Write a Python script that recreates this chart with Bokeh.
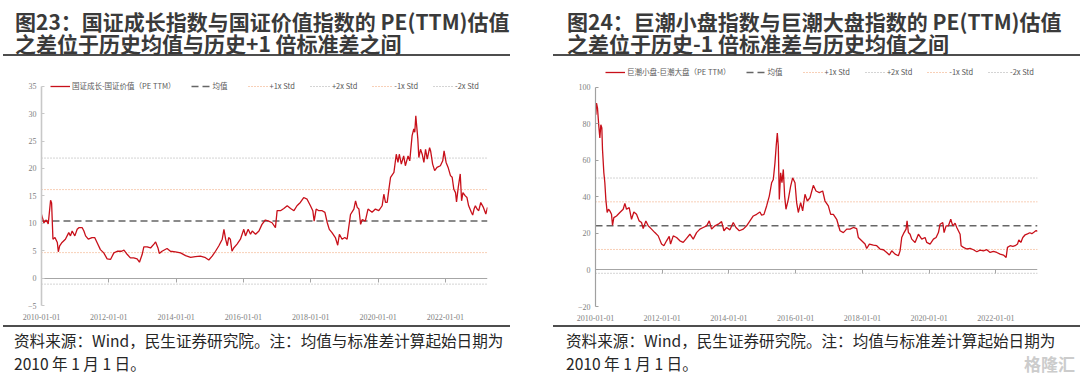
from datetime import datetime, timedelta
from bokeh.plotting import figure
from bokeh.models import (Range1d, FixedTicker, DatetimeTickFormatter, DatetimeAxis,
                          Legend, LegendItem, Div)
from bokeh.layouts import row, column
from bokeh.embed import file_html
from bokeh.resources import INLINE

# ---------------- data ----------------
x_tick_labels = ["2010-01-01", "2012-01-01", "2014-01-01", "2016-01-01",
                 "2018-01-01", "2020-01-01", "2022-01-01"]

# chart 1: 国证成长 - 国证价值 (PE TTM); time in years since 2010-01-01
growth_t = [0.00, 0.07, 0.14, 0.20, 0.27, 0.30, 0.34, 0.40, 0.47, 0.50,
            0.54, 0.61, 0.71, 0.81, 0.86, 0.91, 0.99, 1.06, 1.11, 1.21,
            1.26, 1.31, 1.39, 1.50, 1.58, 1.65, 1.75, 1.85, 1.95, 2.05,
            2.15, 2.25, 2.38, 2.45, 2.55, 2.64, 2.74, 2.84, 2.91, 2.99,
            3.04, 3.14, 3.24, 3.34, 3.39, 3.46, 3.50, 3.58, 3.73, 3.83,
            3.98, 4.13, 4.28, 4.43, 4.57, 4.72, 4.85, 4.97, 5.07, 5.17,
            5.27, 5.37, 5.42, 5.47, 5.52, 5.56, 5.61, 5.66, 5.71, 5.81,
            5.91, 6.01, 6.06, 6.14, 6.21, 6.26, 6.36, 6.46, 6.55, 6.65,
            6.75, 6.85, 6.95, 7.00, 7.10, 7.20, 7.30, 7.40, 7.50, 7.59,
            7.69, 7.79, 7.89, 7.99, 8.06, 8.10, 8.16, 8.24, 8.34, 8.42,
            8.49, 8.55, 8.63, 8.73, 8.80, 8.85, 8.93, 9.01, 9.08, 9.18,
            9.28, 9.33, 9.38, 9.43, 9.48, 9.53, 9.62, 9.70, 9.82, 9.92,
            10.02, 10.12, 10.17, 10.22, 10.27, 10.32, 10.37, 10.44, 10.47, 10.54,
            10.59, 10.63, 10.69, 10.76, 10.81, 10.89, 10.94, 11.01, 11.06, 11.09,
            11.12, 11.15, 11.18, 11.21, 11.26, 11.31, 11.36, 11.41, 11.46, 11.53,
            11.56, 11.62, 11.68, 11.75, 11.85, 11.92, 11.96, 12.02, 12.08, 12.15,
            12.20, 12.25, 12.30, 12.33, 12.38, 12.44, 12.48, 12.52, 12.59, 12.64,
            12.69, 12.77, 12.81, 12.85, 12.89, 12.94, 12.99, 13.05, 13.12, 13.20,
            13.25]
growth_v = [11.6, 10.1, 10.6, 9.9, 14.2, 13.7, 7.1, 7.4, 6.5, 4.8,
            5.9, 6.5, 7.1, 8.3, 7.7, 8.6, 7.7, 8.9, 9.2, 9.2,
            8.6, 7.7, 7.1, 7.4, 7.4, 6.5, 5.2, 4.6, 3.5, 3.4,
            4.6, 4.9, 4.9, 5.1, 4.3, 3.7, 3.7, 3.5, 2.9, 4.3,
            5.7, 5.7, 5.5, 6.2, 6.6, 5.5, 4.5, 4.9, 5.4, 4.9,
            4.8, 4.6, 4.1, 3.8, 3.9, 4.0, 3.8, 3.3, 4.0, 4.9,
            5.9, 7.1, 8.9, 7.1, 5.9, 7.4, 7.1, 4.9, 5.5, 6.2,
            7.1, 8.9, 7.7, 8.9, 8.0, 8.6, 8.0, 8.6, 9.8, 10.6,
            10.4, 10.1, 9.2, 12.3, 12.3, 12.7, 13.2, 12.7, 12.3, 13.2,
            13.8, 14.7, 14.4, 13.2, 12.3, 10.4, 12.6, 12.3, 12.3, 12.0,
            10.1, 8.9, 8.3, 7.4, 6.0, 8.0, 7.1, 7.4, 7.1, 11.6,
            12.6, 14.1, 12.9, 12.6, 9.8, 10.7, 10.4, 12.6, 12.0, 12.6,
            12.3, 13.2, 15.3, 13.8, 13.8, 16.2, 18.4, 19.0, 19.3, 22.6,
            21.1, 22.6, 20.8, 22.3, 20.5, 22.3, 21.4, 26.0, 27.2, 26.6,
            29.6, 27.5, 25.4, 22.0, 23.5, 22.6, 21.1, 23.5, 21.7, 23.8,
            23.2, 20.8, 19.6, 20.2, 20.5, 21.4, 23.2, 21.1, 20.2, 18.7,
            18.4, 16.2, 15.6, 13.9, 16.5, 19.0, 14.1, 15.6, 15.0, 14.7,
            13.2, 12.0, 11.5, 12.6, 13.2, 12.6, 12.3, 13.8, 13.0, 11.7,
            12.9]
growth_mean = 10.4
growth_std = 5.75
growth_yticks = [-5, 0, 5, 10, 15, 20, 25, 30, 35]

# chart 2: 巨潮小盘 - 巨潮大盘 (PE TTM)
size_t = [0.01, 0.03, 0.06, 0.10, 0.13, 0.16, 0.19, 0.21, 0.25, 0.28,
          0.31, 0.35, 0.39, 0.43, 0.48, 0.51, 0.55, 0.63, 0.73, 0.83,
          0.88, 0.93, 1.01, 1.08, 1.15, 1.23, 1.31, 1.38, 1.43, 1.51,
          1.58, 1.68, 1.78, 1.88, 1.98, 2.05, 2.13, 2.21, 2.25, 2.33,
          2.43, 2.53, 2.63, 2.73, 2.83, 2.93, 3.03, 3.13, 3.23, 3.33,
          3.41, 3.48, 3.58, 3.68, 3.78, 3.85, 3.93, 4.03, 4.13, 4.21,
          4.31, 4.43, 4.53, 4.63, 4.73, 4.83, 4.93, 4.98, 5.05, 5.13,
          5.21, 5.28, 5.33, 5.38, 5.42, 5.45, 5.48, 5.51, 5.55, 5.59,
          5.63, 5.67, 5.71, 5.78, 5.85, 5.91, 5.98, 6.03, 6.08, 6.15,
          6.21, 6.28, 6.35, 6.43, 6.53, 6.61, 6.71, 6.81, 6.88, 6.98,
          7.05, 7.13, 7.23, 7.33, 7.43, 7.53, 7.63, 7.73, 7.83, 7.88,
          7.98, 8.08, 8.13, 8.21, 8.33, 8.43, 8.53, 8.63, 8.73, 8.81,
          8.88, 8.98, 9.08, 9.13, 9.18, 9.25, 9.31, 9.34, 9.38, 9.43,
          9.48, 9.58, 9.68, 9.78, 9.88, 9.93, 10.03, 10.13, 10.21, 10.28,
          10.33, 10.41, 10.45, 10.51, 10.58, 10.65, 10.71, 10.78, 10.83, 10.93,
          10.96, 11.03, 11.13, 11.23, 11.33, 11.43, 11.53, 11.63, 11.73, 11.83,
          11.93, 12.03, 12.13, 12.23, 12.31, 12.35, 12.43, 12.51, 12.58, 12.65,
          12.69, 12.75, 12.81, 12.88, 12.95, 13.02, 13.08, 13.15, 13.21, 13.25]
size_v = [85.1, 91.5, 88.7, 78.7, 72.4, 79.6, 77.8, 66.0, 53.3, 47.8,
          38.7, 31.5, 33.3, 32.4, 30.5, 24.5, 28.7, 29.6, 31.5, 33.3,
          36.5, 33.3, 34.2, 27.8, 31.8, 30.5, 26.9, 26.0, 22.7, 26.9,
          24.2, 22.4, 20.5, 18.7, 14.2, 13.3, 16.0, 18.4, 14.2, 18.7,
          17.8, 16.0, 15.1, 17.3, 19.6, 16.9, 20.5, 22.4, 23.3, 24.2,
          26.9, 22.4, 24.2, 25.1, 26.5, 21.5, 23.3, 22.0, 26.0, 23.3,
          21.5, 22.4, 24.2, 26.9, 29.6, 30.5, 31.8, 30.0, 30.5, 35.1,
          40.5, 47.8, 49.6, 58.7, 68.7, 75.1, 67.8, 38.7, 53.3, 47.8,
          55.1, 40.5, 33.3, 38.7, 46.0, 50.5, 47.8, 36.9, 31.5, 36.9,
          32.4, 41.5, 37.8, 39.6, 46.4, 43.3, 42.4, 43.3, 37.8, 35.1,
          30.5, 30.5, 27.8, 21.5, 20.5, 22.4, 22.4, 23.3, 22.7, 17.8,
          16.0, 14.2, 11.8, 14.2, 13.6, 13.3, 11.5, 11.1, 9.6, 8.2,
          10.5, 8.7, 7.8, 10.5, 17.8, 20.5, 22.4, 26.9, 20.5, 19.6,
          16.9, 15.1, 19.6, 16.9, 17.8, 15.1, 14.2, 16.9, 17.8, 20.5,
          25.1, 26.0, 20.5, 24.2, 24.2, 27.8, 24.2, 25.6, 23.3, 19.6,
          13.3, 12.4, 11.5, 11.8, 11.1, 10.0, 10.9, 10.5, 11.1, 9.6,
          10.2, 9.6, 8.7, 8.2, 6.9, 12.4, 13.3, 12.9, 13.3, 14.2,
          16.5, 15.1, 17.8, 19.3, 19.8, 20.4, 19.9, 20.8, 21.6, 21.2]
size_mean = 24.3
size_std = 13.05
size_yticks = [-20, 0, 20, 40, 60, 80, 100]

legend_labels = ["均值", "+1x Std", "+2x Std", "-1x Std", "-2x Std"]

title1 = ["图23：国证成长指数与国证价值指数的 PE(TTM)估值",
          "之差位于历史均值与历史+1 倍标准差之间"]
title2 = ["图24：巨潮小盘指数与巨潮大盘指数的 PE(TTM)估值",
          "之差位于历史-1 倍标准差与历史均值之间"]
note_lines = ["资料来源：Wind，民生证券研究院。注：均值与标准差计算起始日期为",
              "2010 年 1 月 1 日。"]
watermark = "格隆汇"

# ---------------- styling helpers ----------------
RED = "#c8101a"
MEAN_C = "#666666"
STD1_C = "#f0a070"
STD2_C = "#a8a8a8"
TICK_C = "#808080"
CJK = "Noto Sans CJK SC"
EPOCH = datetime(1970, 1, 1)
PANEL_W = 540


def to_dt(t):
    return datetime(2010, 1, 1) + timedelta(days=t * 365.25)


def to_ms(d):
    return (d - EPOCH).total_seconds() * 1000.0


def make_chart(t, v, mean, std, yticks, headroom, series_label, borders,
               legend_loc, yaxis_color, yaxis_width):
    bl, br, bt, bb = borders
    xs = [to_dt(a) for a in t]
    tick_dt = [datetime.strptime(s, "%Y-%m-%d") for s in x_tick_labels]
    tick_ms = [to_ms(d) for d in tick_dt]
    x0, x1 = tick_dt[0], xs[-1]
    p = figure(width=PANEL_W, height=269, x_axis_type="datetime",
               x_range=Range1d(x0, x1),
               y_range=Range1d(yticks[0], yticks[-1] + headroom),
               output_backend="svg", toolbar_location=None,
               min_border_left=bl, min_border_right=br,
               min_border_top=bt, min_border_bottom=bb, margin=(0, 0, 0, 0))
    p.outline_line_color = None
    p.xgrid.visible = False
    p.ygrid.visible = False
    p.background_fill_color = "white"
    p.border_fill_color = "white"

    # reference lines: mean, +1, +2, -1, -2 std
    levels = [mean, mean + std, mean + 2 * std, mean - std, mean - 2 * std]
    styles = [(MEAN_C, "7 4", 1.5), (STD1_C, "1 2", 1.0), (STD2_C, "1 2", 1.0),
              (STD1_C, "1 2", 1.0), (STD2_C, "1 2", 1.0)]
    ref_renderers = []
    for lv, (c, dash, w) in zip(levels, styles):
        r = p.line(x=[x0, x1], y=[lv, lv], line_color=c, line_dash=dash, line_width=w)
        ref_renderers.append(r)

    r_series = p.line(x=xs, y=v, line_color=RED, line_width=1.3)

    # bottom axis: labels only
    bx = p.below[0]
    bx.ticker = FixedTicker(ticks=tick_ms)
    bx.formatter = DatetimeTickFormatter(days="%Y-%m-%d", months="%Y-%m-%d",
                                         years="%Y-%m-%d")
    bx.axis_line_color = None
    bx.major_tick_line_color = None
    bx.minor_tick_line_color = None
    bx.major_label_standoff = 2
    bx.major_label_text_font = "Liberation Serif"
    bx.major_label_text_font_size = "8px"
    bx.major_label_text_color = TICK_C

    # zero line with downward tick marks
    zaxis = DatetimeAxis(fixed_location=0, ticker=FixedTicker(ticks=tick_ms),
                         axis_line_color="#a6a6a6", axis_line_width=1,
                         major_tick_line_color="#a6a6a6", major_tick_in=4,
                         major_tick_out=0, minor_tick_line_color=None,
                         major_label_text_alpha=0, major_label_text_font_size="6px")
    p.add_layout(zaxis, "above")

    # y axis, bounded to the tick span
    ya = p.yaxis[0]
    ya.ticker = FixedTicker(ticks=yticks)
    ya.bounds = (yticks[0], yticks[-1])
    ya.axis_line_color = yaxis_color
    ya.axis_line_width = yaxis_width
    ya.major_tick_line_color = yaxis_color
    ya.major_tick_in = 3
    ya.major_tick_out = 0
    ya.minor_tick_line_color = None
    ya.major_label_standoff = 5
    ya.major_label_text_font = "Liberation Serif"
    ya.major_label_text_font_size = "8px"
    ya.major_label_text_color = TICK_C

    items = [LegendItem(label=series_label, renderers=[r_series])]
    for lab, r in zip(legend_labels, ref_renderers):
        items.append(LegendItem(label=lab, renderers=[r]))
    legend = Legend(items=items, location=legend_loc, orientation="horizontal",
                    glyph_width=20, glyph_height=10, label_height=10,
                    label_standoff=2, spacing=15, padding=0, margin=0,
                    border_line_alpha=0, background_fill_alpha=0,
                    label_text_font=CJK, label_text_font_size="7.5px",
                    label_text_color="#595959")
    p.add_layout(legend)
    return p


def title_div(lines, offset, pad, right_end):
    w = right_end - offset
    html = ('<div style="box-sizing:border-box;margin-left:%dpx;width:%dpx;height:56px;'
            'padding:10px 0 0 %dpx;border-bottom:2px solid #4d4d4d;'
            'font-family:\'Noto Sans CJK SC\',sans-serif;font-weight:700;font-size:21px;'
            'line-height:22px;color:#3a3a3a;white-space:nowrap;">%s</div>'
            % (offset, w, pad, "<br>".join(lines)))
    return Div(text=html, width=PANEL_W, height=56, margin=(0, 0, 0, 0))


def note_div(lines, offset, pad, right_end, mark=None):
    w = right_end - offset
    second = lines[1]
    if mark:
        second = ('<div style="display:flex;justify-content:space-between;">'
                  '<span>%s</span><span style="color:#cccccc;font-weight:700;'
                  'font-size:17px;padding-right:5px;">%s</span></div>' % (lines[1], mark))
    html = ('<div style="box-sizing:border-box;margin-left:%dpx;width:%dpx;height:57px;'
            'padding:2px 0 0 %dpx;border-top:2px solid #4d4d4d;'
            'font-family:\'Noto Sans CJK SC\',sans-serif;font-size:15.6px;'
            'line-height:23px;color:#262626;white-space:nowrap;">%s<br>%s</div>'
            % (offset, w, pad, lines[0], second))
    return Div(text=html, width=PANEL_W, height=57, margin=(0, 0, 0, 0))


p1 = make_chart(growth_t, growth_v, growth_mean, growth_std, growth_yticks, 1.42,
                "国证成长-国证价值（PE TTM）", (41, 53, 22, 20), (9, 214),
                "#c8c8c8", 1.6)
p2 = make_chart(size_t, size_v, size_mean, size_std, size_yticks, 12.6,
                "巨潮小盘-巨潮大盘（PE TTM）", (55, 43, 8, 19), (10, 229),
                "#a0a0a0", 1.2)

left = column(title_div(title1, 3, 12, 510), p1, note_div(note_lines, 3, 11, 510),
              spacing=0, margin=(0, 0, 0, 0))
right = column(title_div(title2, 13, 14, 540), p2,
               note_div(note_lines, 13, 13, 540, watermark),
               spacing=0, margin=(0, 0, 0, 0))
layout = row(left, right, spacing=0, margin=(0, 0, 0, 0))

open("out.html", "w").write(file_html(layout, INLINE))
